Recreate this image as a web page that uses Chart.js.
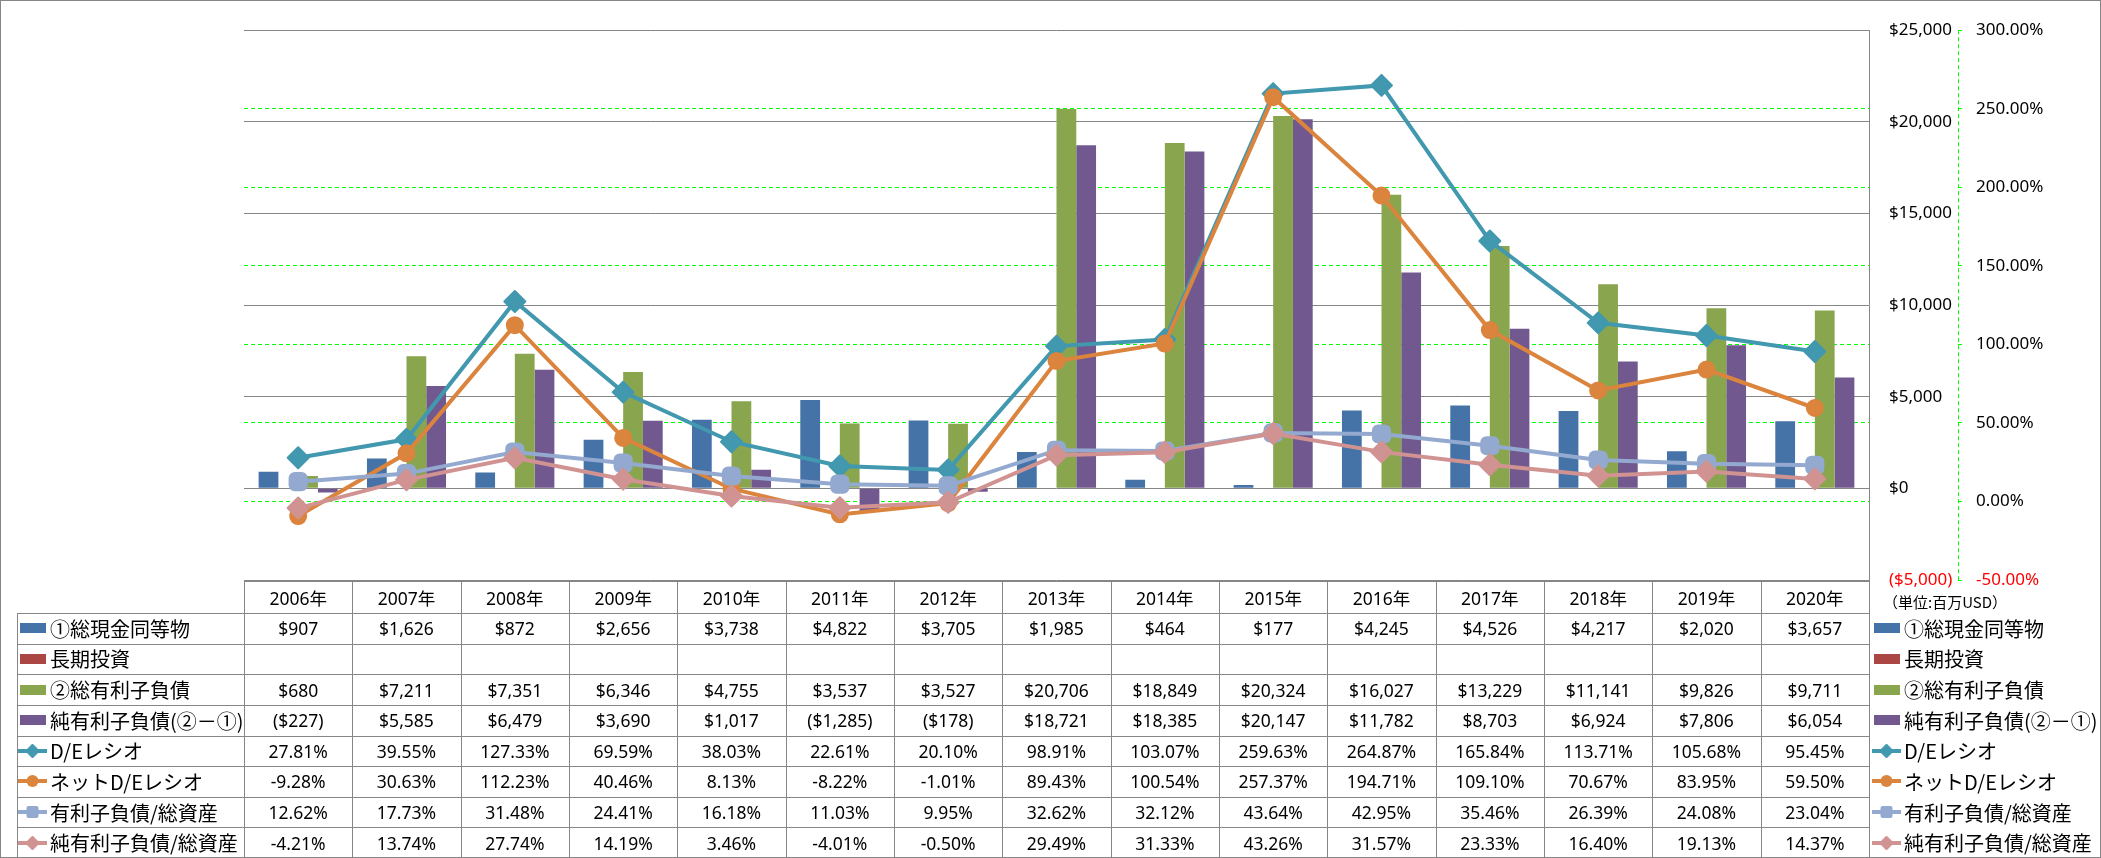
<!DOCTYPE html>
<html>
<head>
<meta charset="utf-8">
<script src="https://cdn.jsdelivr.net/npm/chart.js@4.4.1/dist/chart.umd.min.js"></script>
<style>
html,body{margin:0;padding:0;background:#fff;}
#wrap{position:relative;width:2101px;height:858px;overflow:hidden;background:#fff;}
#c{position:absolute;left:0;top:0;}
#frame{position:absolute;left:0;top:0;width:2099px;height:856px;border:1px solid #868686;pointer-events:none;}
.cell{position:absolute;box-sizing:border-box;display:flex;align-items:center;justify-content:center;font-family:'Noto Sans','Noto Sans CJK JP',sans-serif;font-size:17.5px;color:#000;white-space:nowrap;}
.lab{position:absolute;display:flex;align-items:center;font-family:'Noto Sans CJK JP',sans-serif;font-size:20px;color:#000;white-space:nowrap;}
.lab svg{flex:none;margin-right:2px;}
.ln{position:absolute;background:#868686;}
#unit{position:absolute;left:1883px;top:590px;font-family:'Noto Sans CJK JP',sans-serif;font-size:15px;color:#000;white-space:nowrap;line-height:24px;}
</style>
</head>
<body>
<div id="wrap">
<canvas id="c" width="2101" height="858"></canvas>
<div id="tbl"></div>
<div id="unit">（単位:百万USD）</div>
<div id="frame"></div>
</div>
<script>
// ---- data ----
const categories = ['2006年','2007年','2008年','2009年','2010年','2011年','2012年','2013年','2014年','2015年','2016年','2017年','2018年','2019年','2020年'];
const seriesNames = ['①総現金同等物','長期投資','②総有利子負債','純有利子負債(②－①)','D/Eレシオ','ネットD/Eレシオ','有利子負債/総資産','純有利子負債/総資産'];
const cashEquivalents = [907,1626,872,2656,3738,4822,3705,1985,464,177,4245,4526,4217,2020,3657];
const longTermInvestments = [null,null,null,null,null,null,null,null,null,null,null,null,null,null,null];
const totalDebt = [680,7211,7351,6346,4755,3537,3527,20706,18849,20324,16027,13229,11141,9826,9711];
const netDebt = [-227,5585,6479,3690,1017,-1285,-178,18721,18385,20147,11782,8703,6924,7806,6054];
const deRatio = [27.81,39.55,127.33,69.59,38.03,22.61,20.10,98.91,103.07,259.63,264.87,165.84,113.71,105.68,95.45];
const netDeRatio = [-9.28,30.63,112.23,40.46,8.13,-8.22,-1.01,89.43,100.54,257.37,194.71,109.10,70.67,83.95,59.50];
const debtToAssets = [12.62,17.73,31.48,24.41,16.18,11.03,9.95,32.62,32.12,43.64,42.95,35.46,26.39,24.08,23.04];
const netDebtToAssets = [-4.21,13.74,27.74,14.19,3.46,-4.01,-0.50,29.49,31.33,43.26,31.57,23.33,16.40,19.13,14.37];
const moneyTicks = {min:-5000, max:25000, step:5000};
const pctTicks = {min:-50, max:300, step:50};

// ---- styles ----
const colors = ['#4572A7','#AA4643','#89A54E','#71588F','#4198AF','#DB843D','#93A9CF','#D19392'];
const markers = [null,null,null,null,'diamond','circle','square','diamond'];

function fmtMoney(v){
  if (v === null || v === undefined) return '';
  const s = Math.abs(v).toLocaleString('en-US');
  return v < 0 ? '($' + s + ')' : '$' + s;
}
function fmtPct(v){
  if (v === null || v === undefined) return '';
  return v.toFixed(2) + '%';
}

const rows = [
  {name:seriesNames[0], data:cashEquivalents, fmt:fmtMoney},
  {name:seriesNames[1], data:longTermInvestments, fmt:fmtMoney},
  {name:seriesNames[2], data:totalDebt, fmt:fmtMoney},
  {name:seriesNames[3], data:netDebt, fmt:fmtMoney},
  {name:seriesNames[4], data:deRatio, fmt:fmtPct},
  {name:seriesNames[5], data:netDeRatio, fmt:fmtPct},
  {name:seriesNames[6], data:debtToAssets, fmt:fmtPct},
  {name:seriesNames[7], data:netDebtToAssets, fmt:fmtPct}
];

const y1Border = {
  id:'y1Border',
  beforeDatasetsDraw(chart){ chart.ctx.lineJoin = 'round'; },
  afterDatasetsDraw(chart){ chart.ctx.lineJoin = 'miter'; },
  afterDraw(chart){
    const s = chart.scales.y1, ctx = chart.ctx;
    const x = Math.round(s.left) + 0.5;
    ctx.save();
    ctx.strokeStyle = '#00ff00';
    ctx.lineWidth = 1;
    ctx.setLineDash([4,3]);
    ctx.beginPath();
    ctx.moveTo(x, s.top);
    ctx.lineTo(x, s.bottom);
    ctx.stroke();
    ctx.restore();
  }
};

function barDs(i, data, order){
  return {type:'bar', label:seriesNames[i], data:data, backgroundColor:colors[i], borderWidth:0, yAxisID:'y', order:order};
}
function lineDs(i, data, style, radius, order){
  return {type:'line', label:seriesNames[i], data:data, borderColor:colors[i], backgroundColor:colors[i],
    pointBackgroundColor:colors[i], pointBorderColor:colors[i], pointBorderWidth:2,
    pointStyle:style, pointRadius:radius, pointHoverRadius:radius, borderWidth:4, tension:0,
    yAxisID:'y1', order:order};
}

const chart = new Chart(document.getElementById('c'), {
  type:'bar',
  data:{
    labels:categories,
    datasets:[
      barDs(0, cashEquivalents, 10),
      barDs(1, longTermInvestments, 11),
      barDs(2, totalDebt, 12),
      barDs(3, netDebt, 13),
      lineDs(4, deRatio, 'rectRot', 10.5, 4),
      lineDs(5, netDeRatio, 'circle', 8, 3),
      lineDs(6, debtToAssets, 'rectRounded', 10, 2),
      lineDs(7, netDebtToAssets, 'rectRot', 10.5, 1)
    ]
  },
  options:{
    responsive:false,
    animation:false,
    devicePixelRatio:1,
    layout:{padding:{left:244, top:13, right:0, bottom:278}},
    plugins:{legend:{display:false}, tooltip:{enabled:false}},
    datasets:{bar:{categoryPercentage:0.73, barPercentage:1}},
    scales:{
      x:{display:false},
      y:{
        position:'right', min:moneyTicks.min, max:moneyTicks.max,
        ticks:{stepSize:moneyTicks.step, padding:20, font:{family:'Noto Sans', size:17},
          color:(c)=> (c.tick && c.tick.value < 0) ? '#FF0000' : '#000',
          callback:(v)=>fmtMoney(v)},
        grid:{color:'#868686', drawTicks:false, lineWidth:1},
        border:{display:true, color:'#868686'},
        afterFit(s){ s.width = 89; }
      },
      y1:{
        position:'right', min:pctTicks.min, max:pctTicks.max,
        ticks:{stepSize:pctTicks.step, padding:14, font:{family:'Noto Sans', size:17},
          color:(c)=> (c.tick && c.tick.value < 0) ? '#FF0000' : '#000',
          callback:(v)=>fmtPct(v)},
        grid:{
          color:(c)=> (c.tick && (c.tick.value === pctTicks.max || c.tick.value === pctTicks.min)) ? 'rgba(0,0,0,0)' : '#00ff00',
          tickColor:'#00ff00', tickLength:4, drawOnChartArea:true, lineWidth:1},
        border:{display:false, dash:[4,3]},
        afterFit(s){ s.width = 143; }
      }
    }
  },
  plugins:[y1Border]
});

// ---- data table (positions from the chart's own x scale) ----
function symbolSvg(i){
  const c = colors[i];
  let s = '<svg width="30" height="20" viewBox="0 0 30 20">';
  if (!markers[i]) {
    s += '<rect x="2" y="5" width="26" height="10" fill="'+c+'"/>';
  } else {
    s += '<line x1="0" y1="10" x2="29" y2="10" stroke="'+c+'" stroke-width="4"/>';
    if (markers[i] === 'diamond') s += '<polygon points="14.5,3 21.5,10 14.5,17 7.5,10" fill="'+c+'" stroke="'+c+'" stroke-width="1" stroke-linejoin="round"/>';
    if (markers[i] === 'circle') s += '<circle cx="14.5" cy="10" r="6" fill="'+c+'"/>';
    if (markers[i] === 'square') s += '<rect x="8.5" y="4" width="12" height="12" rx="2" fill="'+c+'"/>';
  }
  return s + '</svg>';
}

function buildTable(){
  const ca = chart.chartArea, xs = chart.scales.x;
  const n = categories.length;
  const colW = (ca.right - ca.left) / n;
  const tbl = document.getElementById('tbl');
  const headTop = Math.round(ca.bottom) + 1;
  const headH = 32;
  const bodyTop = headTop + headH;
  const rowH = (858 - bodyTop) / rows.length;
  const legLeft = 17;
  let html = '';
  const hline = (x1, x2, y) => '<div class="ln" style="left:'+x1+'px;top:'+Math.round(y)+'px;width:'+(x2-x1+1)+'px;height:1px"></div>';
  const vline = (x, y1, y2) => '<div class="ln" style="left:'+Math.round(x)+'px;top:'+Math.round(y1)+'px;width:1px;height:'+Math.round(y2-y1)+'px"></div>';
  // header
  for (let i = 0; i < n; i++) {
    const cx = xs.getPixelForValue(i);
    html += '<div class="cell" style="left:'+(cx-colW/2)+'px;top:'+headTop+'px;width:'+colW+'px;height:'+headH+'px">'+categories[i]+'</div>';
  }
  // body
  rows.forEach((r, k) => {
    const top = bodyTop + k * rowH;
    html += '<div class="lab" style="left:'+(legLeft+1)+'px;top:'+top+'px;height:'+rowH+'px">'+symbolSvg(k)+'<span>'+r.name+'</span></div>';
    html += '<div class="lab" style="left:1872px;top:'+top+'px;height:'+rowH+'px">'+symbolSvg(k)+'<span>'+r.name+'</span></div>';
    for (let i = 0; i < n; i++) {
      const cx = xs.getPixelForValue(i);
      html += '<div class="cell" style="left:'+(cx-colW/2)+'px;top:'+top+'px;width:'+colW+'px;height:'+rowH+'px">'+r.fmt(r.data[i])+'</div>';
    }
  });
  // grid lines
  html += hline(Math.round(ca.left), Math.round(ca.right), headTop);
  for (let k = 0; k <= rows.length; k++) {
    html += hline(legLeft, Math.round(ca.right), bodyTop + k * rowH);
  }
  for (let i = 0; i <= n; i++) {
    html += vline(ca.left + i * colW, headTop, 858);
  }
  html += vline(legLeft, bodyTop, 858);
  tbl.innerHTML = html;
}
buildTable();
</script>
</body>
</html>
